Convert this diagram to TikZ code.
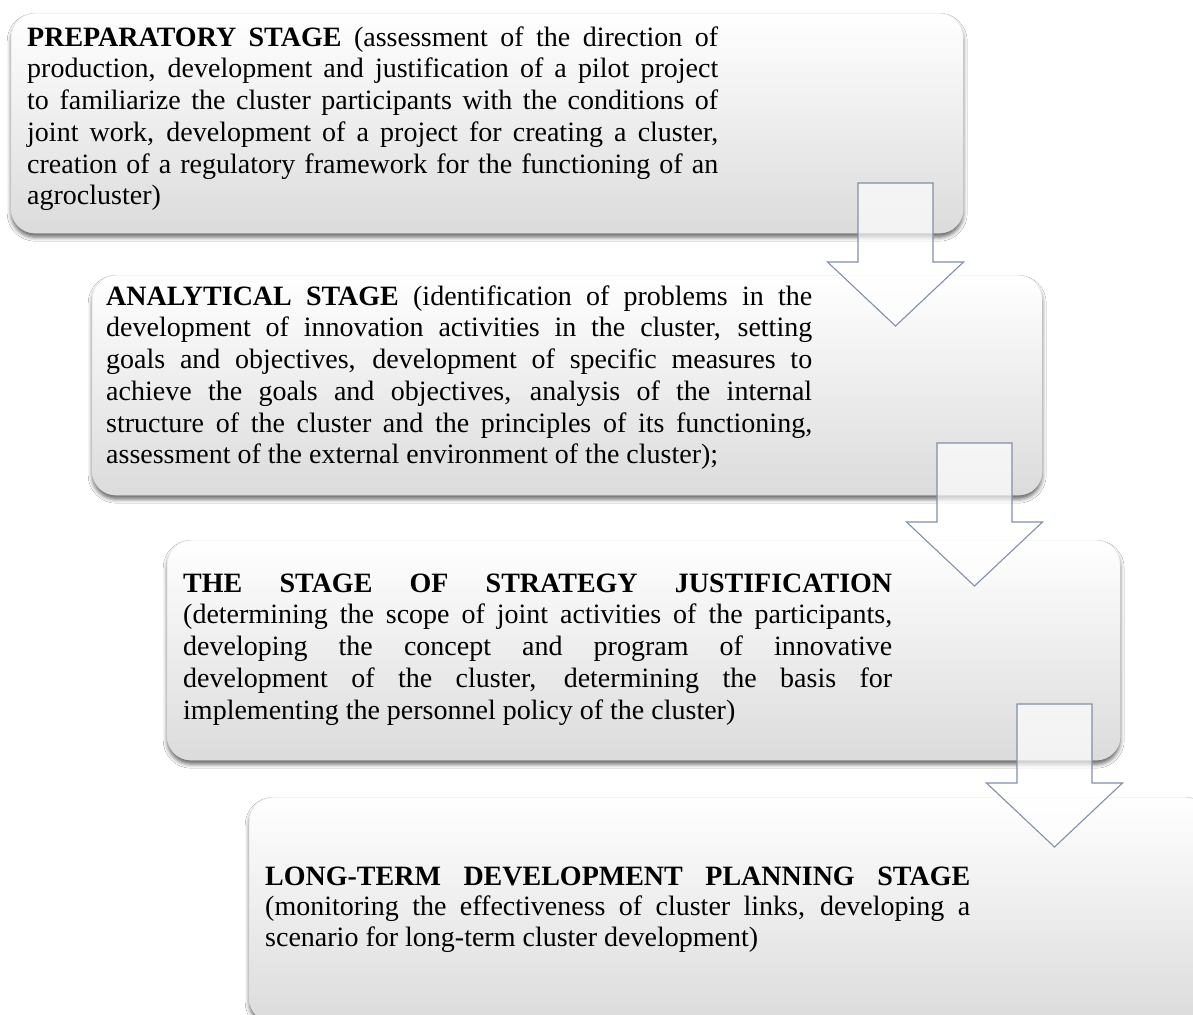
\documentclass[tikz,border=0pt]{standalone}
\usepackage{fontspec}
\setmainfont{Liberation Serif}
\usetikzlibrary{shadows.blur}
\definecolor{arrowc}{RGB}{128,144,168}
\newcommand\jl[2]{\hbox to #1{#2}}
\newcommand\nl[1]{\hbox{#1}}
\newcommand\fs{\rule{0pt}{22pt}}
\tikzset{
  stagebox/.style={rounded corners=24pt, top color=white, middle color=white!97!black,
    bottom color=black!14, draw=black!12, line width=0.4pt, inner sep=0pt,
    anchor=north west,
    blur shadow={shadow xshift=0pt, shadow yshift=-4pt, shadow blur radius=4pt, shadow opacity=60}},
  stagetext/.style={anchor=north west, inner sep=0pt, align=left,
    font=\fontsize{28pt}{31.7pt}\selectfont},
  blockarrow/.style={draw=arrowc, line width=1.1pt, fill=white, fill opacity=0.65,
    line join=miter},
  downarrow/.pic={\draw[blockarrow] (-37.5,0) -- (37.5,0) -- (37.5,79) -- (68,79)
    -- (0,143) -- (-68,79) -- (-37.5,79) -- cycle;}
}
\begin{document}
\begin{tikzpicture}[x=1pt,y=-1pt]
\path[use as bounding box] (0,0) rectangle (1193,1014);
\clip (0,0) rectangle (1193,1014);
\fill[white] (0,0) rectangle (1193,1014);

\node[stagebox, minimum width=952pt, minimum height=220pt] (b1) at (11,13) {};
\node[stagebox, minimum width=950pt, minimum height=220pt] (b2) at (92,275) {};
\node[stagebox, minimum width=953pt, minimum height=220pt] (b3) at (167,540) {};
\node[stagebox, minimum width=960pt, minimum height=225pt] (b4) at (249,797) {};

\node[stagetext] (t1) at (27,24) {\vbox{\baselineskip=31.7pt
\jl{691pt}{\fs\textbf{PREPARATORY STAGE} (assessment of the direction of}
\jl{691pt}{production, development and justification of a pilot project}
\jl{691pt}{to familiarize the cluster participants with the conditions of}
\jl{691pt}{joint work, development of a project for creating a cluster,}
\jl{691pt}{creation of a regulatory framework for the functioning of an}
\nl{agrocluster)}}};

\node[stagetext] (t2) at (106,283) {\vbox{\baselineskip=31.7pt
\jl{706pt}{\fs\textbf{ANALYTICAL STAGE} (identification of problems in the}
\jl{706pt}{development of innovation activities in the cluster, setting}
\jl{706pt}{goals and objectives, development of specific measures to}
\jl{706pt}{achieve the goals and objectives, analysis of the internal}
\jl{706pt}{structure of the cluster and the principles of its functioning,}
\nl{assessment of the external environment of the cluster);}}};

\node[stagetext] (t3) at (183,570) {\vbox{\baselineskip=31.7pt
\jl{709pt}{\fs\textbf{THE STAGE OF STRATEGY JUSTIFICATION}}
\jl{709pt}{(determining the scope of joint activities of the participants,}
\jl{709pt}{developing the concept and program of innovative}
\jl{709pt}{development of the cluster, determining the basis for}
\nl{implementing the personnel policy of the cluster)}}};

\node[stagetext] (t4) at (265,863) {\vbox{\baselineskip=30.5pt
\jl{705pt}{\fs\textbf{LONG-TERM DEVELOPMENT PLANNING STAGE}}
\jl{705pt}{(monitoring the effectiveness of cluster links, developing a}
\nl{scenario for long-term cluster development)}}};

\pic (a1) at (895.5,183) {downarrow};
\pic (a2) at (974.5,443) {downarrow};
\pic (a3) at (1054.5,704) {downarrow};
\end{tikzpicture}
\end{document}
